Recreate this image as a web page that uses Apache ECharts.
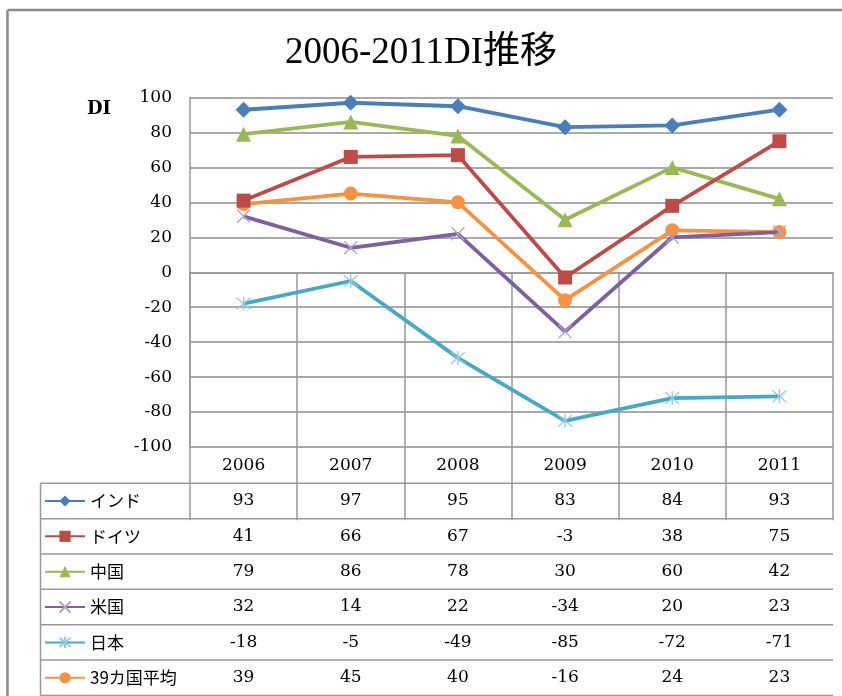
<!DOCTYPE html>
<html>
<head>
<meta charset="utf-8">
<script src="https://cdn.jsdelivr.net/npm/echarts@6/dist/echarts.min.js"></script>
<style>
html,body{margin:0;padding:0;background:#fff;}
#c{width:842px;height:696px;}
</style>
</head>
<body>
<div id="c"></div>
<script>
const categories = ['2006','2007','2008','2009','2010','2011'];
const seriesNames = ['インド','ドイツ','中国','米国','日本','39カ国平均'];
const india   = [93, 97, 95, 83, 84, 93];
const germany = [41, 66, 67, -3, 38, 75];
const china   = [79, 86, 78, 30, 60, 42];
const usa     = [32, 14, 22, -34, 20, 23];
const japan   = [-18, -5, -49, -85, -72, -71];
const average = [39, 45, 40, -16, 24, 23];
const yTicks = [-100, -80, -60, -40, -20, 0, 20, 40, 60, 80, 100];

const allData = [india, germany, china, usa, japan, average];
const colors = ['#4A7EBB', '#BE4B48', '#98B954', '#7D60A0', '#46AAC5', '#F69240'];
const symbols = ['diamond', 'rect', 'triangle',
  'path://M0,0L10,10M10,0L0,10',
  'path://M0,0L10,10M10,0L0,10M5,-1L5,11',
  'circle'];
const symbolSizes = [16, 14, 15, 13, 14, 14];
const symBorder = [null, null, null, '#B3A2C7', '#93CDDD', null];

const serif = '"DejaVu Serif", "Liberation Serif", serif';
const cjk = '"Noto Sans CJK JP", sans-serif';

const chart = echarts.init(document.getElementById('c'), null, {renderer: 'canvas'});

const GRID = {left: 190, right: 9, top: 97.5, bottom: 249};
const rowTop = 483.3, rowH = 35.35, nRows = 6;

const series = allData.map((d, i) => {
  const isPath = symbols[i].startsWith('path://');
  return {
    name: seriesNames[i],
    type: 'line',
    data: d,
    symbol: symbols[i],
    symbolSize: symbolSizes[i],
    showAllSymbol: true,
    lineStyle: {color: colors[i], width: 3.8},
    itemStyle: isPath ? {color: 'none', borderColor: symBorder[i], borderWidth: 1.3}
                      : {color: colors[i]},
    emphasis: {disabled: true},
    z: 2 + (5 - i),
    animation: false
  };
});

const legends = seriesNames.map((n, i) => ({
  orient: 'vertical',
  left: 44,
  top: rowTop + i * rowH + rowH / 2 - 9,
  padding: 0,
  itemWidth: 40,
  itemHeight: 14,
  itemGap: 5,
  selectedMode: false,
  textStyle: {fontFamily: cjk, fontSize: 17, color: '#000', lineHeight: 18},
  data: [n]
}));

const option = {
  animation: false,
  backgroundColor: '#fff',
  title: {
    text: '2006-2011DI推移',
    left: 'center',
    top: 30,
    textStyle: {fontFamily: '"Liberation Serif", "Noto Sans CJK JP", serif', fontSize: 37, fontWeight: 'normal', color: '#000'}
  },
  color: colors,
  legend: legends,
  grid: GRID,
  xAxis: {
    type: 'category',
    data: categories,
    boundaryGap: true,
    axisLine: {show: true, lineStyle: {color: '#999', width: 1.5}},
    axisTick: {show: true, length: 248, lineStyle: {color: '#999', width: 1.5}},
    axisLabel: {margin: 10, fontFamily: serif, fontSize: 17, color: '#000'},
    splitLine: {show: false}
  },
  yAxis: {
    type: 'value',
    min: yTicks[0],
    max: yTicks[yTicks.length - 1],
    interval: 20,
    axisLine: {show: true, lineStyle: {color: '#999', width: 1.5}},
    axisTick: {show: false},
    axisLabel: {margin: 18, fontFamily: serif, fontSize: 17, color: '#000'},
    splitLine: {show: true, lineStyle: {color: '#8c8c8c', width: 1.5}}
  },
  series: series
};
chart.setOption(option);

const gfx = [];
gfx.push({type: 'line', shape: {x1: 7.5, y1: 10, x2: 842, y2: 10}, style: {stroke: '#8a8a8a', lineWidth: 2.5}, silent: true});
gfx.push({type: 'line', shape: {x1: 7.5, y1: 10, x2: 7.5, y2: 696}, style: {stroke: '#8a8a8a', lineWidth: 2.5}, silent: true});
gfx.push({type: 'text', x: 99, y: 109, style: {text: 'DI', font: 'bold 18px ' + serif, fill: '#000', align: 'center', verticalAlign: 'middle'}, silent: true});

const xRight = 842 - GRID.right;
for (let r = 0; r <= nRows; r++) {
  const y = rowTop + r * rowH;
  gfx.push({type: 'line', shape: {x1: 40.5, y1: y, x2: xRight, y2: y}, style: {stroke: '#999', lineWidth: 1.5}, silent: true});
}
gfx.push({type: 'line', shape: {x1: 40.5, y1: rowTop, x2: 40.5, y2: rowTop + nRows * rowH}, style: {stroke: '#999', lineWidth: 1.5}, silent: true});

allData.forEach((d, r) => {
  const cy = rowTop + r * rowH + rowH / 2;
  d.forEach((v, i) => {
    const cx = chart.convertToPixel({xAxisIndex: 0}, i);
    gfx.push({type: 'text', x: cx, y: cy, style: {text: String(v), font: '17px ' + serif, fill: '#000', align: 'center', verticalAlign: 'middle'}, silent: true});
  });
});
chart.setOption({graphic: gfx});
</script>
</body>
</html>
